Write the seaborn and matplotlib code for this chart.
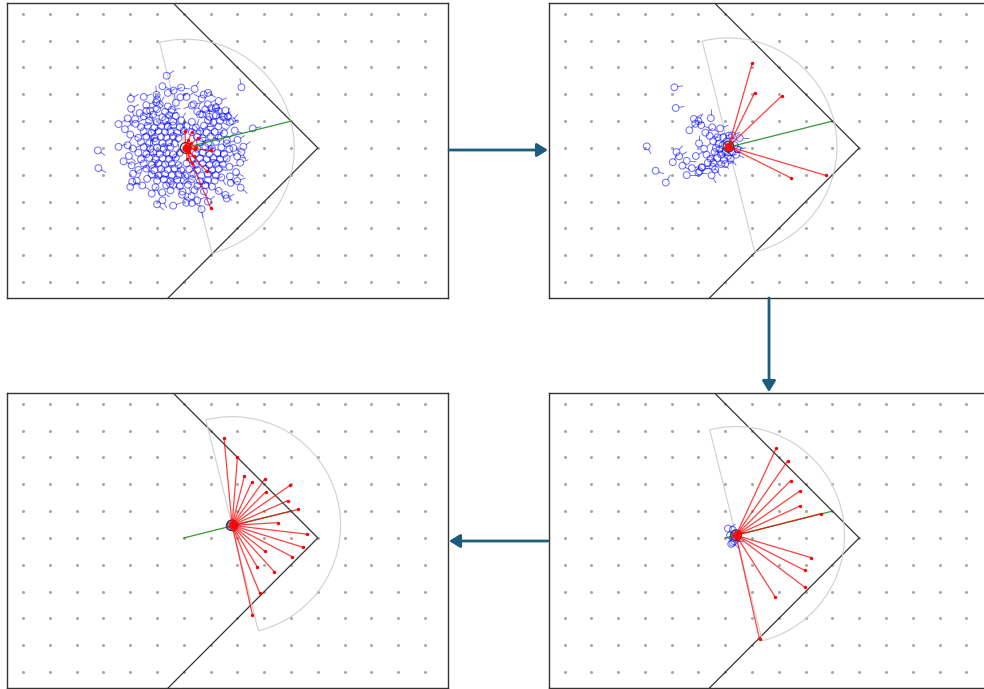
import numpy as np
import matplotlib
matplotlib.use("Agg")
import matplotlib.pyplot as plt
from matplotlib.patches import Wedge, Circle, FancyArrowPatch
from matplotlib.collections import LineCollection
import seaborn as sns

# ---- scene (grid units) ----
grid_x = list(range(0, 16))
grid_y = list(range(0, 11))
wall_vertex = (11.0, 5.0)
wall_top = (5.6, 10.4)
wall_bottom = (5.4, -0.6)
truth_ray = [(6.0, 5.0), (10.0, 6.0)]
fov_radius = 4.05
fov_heading = 14.0

# estimated robot pose per panel
centers = [(6.07, 5.0), (6.12, 5.05), (7.8, 5.47), (6.4, 5.1)]

# red rays: end points per panel
rays1_x = [6.04, 6.29, 6.54, 7.01, 6.36, 6.85, 7.0, 6.25, 6.4, 6.2, 6.15, 6.3, 6.45, 6.12]
rays1_y = [5.62, 5.6, 5.37, 4.91, 4.69, 4.13, 2.76, 5.2, 4.95, 4.85, 5.3, 4.45, 5.05, 4.6]
rays2_x = [7.01, 7.10, 8.11, 9.75, 8.46]
rays2_y = [8.17, 7.06, 6.94, 3.98, 3.88]
rays3_x = [7.50, 8.00, 8.26, 8.54, 9.03, 9.07, 9.98, 9.88, 10.27, 9.50, 10.60, 10.46, 10.04, 9.03, 8.74, 9.38, 8.83, 8.56]
rays3_y = [8.72, 8.01, 7.31, 7.09, 7.21, 6.73, 6.97, 6.39, 6.06, 5.57, 5.14, 4.65, 4.30, 4.50, 3.92, 3.74, 2.95, 2.14]
rays4_x = [7.90, 8.33, 8.45, 8.79, 8.79, 9.59, 9.19, 8.97, 8.96, 7.87, 7.28]
rays4_y = [8.35, 7.87, 7.14, 6.75, 6.19, 5.91, 4.27, 3.79, 3.17, 2.79, 1.23]

# particles (x, y, heading in degrees)
p1_x = [5.36, 8.15, 5.62, 5.87, 4.98, 4.02, 4.03, 4.18, 3.56, 4.74, 4.97, 2.79, 3.56, 2.81, 8.57,
        8.22, 7.99, 6.74, 6.67, 6.36, 6.68, 7.02, 7.19, 7.45, 7.64, 7.29, 7.72, 4.10, 4.07, 4.24,
        4.63, 4.94, 5.19, 5.34, 5.93, 6.08, 6.66, 6.29, 7.55, 7.60, 7.72, 7.99, 8.12,
        4.2, 4.0, 3.9, 3.95, 4.05, 4.45, 4.8, 5.2, 5.6, 6.3, 6.9, 7.3, 7.75, 7.95,
        8.1, 8.15, 8.0, 7.9, 7.8, 7.55, 7.3, 6.9, 6.4, 5.9, 5.4, 5.0, 4.6, 4.35,
        3.8, 3.75, 4.0, 5.0, 6.5, 7.4, 7.7, 7.85, 7.6, 5.2, 6.1, 4.5, 3.9,
        5.1, 5.4, 5.7, 6.3, 6.9, 7.2,
        4.6, 5.0, 5.3, 5.55, 6.5, 6.8, 7.3,
        4.5, 4.85, 5.2, 5.45, 5.7, 6.6, 6.95, 7.2, 7.5,
        4.7, 5.0, 5.3, 5.6, 5.9, 6.3, 6.9, 7.1, 7.35,
        4.4, 4.65, 4.9, 5.15, 5.4, 5.6, 5.85, 6.1, 6.45, 6.75, 7.0,
        4.5, 4.8, 5.05, 5.3, 5.5, 5.75, 6.0, 6.3, 6.6, 6.85, 7.15, 7.5,
        4.3, 4.6, 4.9, 5.15, 5.35, 5.6, 5.8, 6.5, 6.7, 7.0, 7.3,
        4.4, 4.7, 4.95, 5.2, 5.45, 5.65, 6.6, 6.9, 7.2, 7.6,
        4.1, 4.5, 4.75, 5.0, 5.25, 5.5, 6.5, 6.8, 7.05, 7.4, 7.7,
        4.3, 4.6, 4.85, 5.1, 5.35, 5.6, 5.85, 6.45, 6.7, 6.95, 7.25, 7.5,
        4.4, 4.7, 4.95, 5.2, 5.45, 5.7, 6.3, 6.6, 6.85, 7.1, 7.35, 7.6,
        4.5, 4.8, 5.05, 5.3, 5.55, 5.8, 6.1, 6.45, 6.7, 6.95, 7.2, 7.45,
        4.3, 4.6, 4.9, 5.15, 5.4, 5.65, 5.9, 6.2, 6.5, 6.8, 7.05, 7.3,
        4.8, 5.05, 5.3, 5.55, 5.8, 6.05, 6.35, 6.65, 6.9, 7.2,
        5.0, 5.25, 5.5, 5.75, 6.0, 6.3, 6.6, 6.9, 7.15,
        5.6, 5.85, 6.15, 6.5, 6.8, 7.05,
        5.5, 5.95, 6.4, 6.75]
p1_y = [7.69, 7.26, 7.14, 6.89, 6.98, 6.83, 6.46, 6.08, 5.89, 6.39, 6.70, 4.91, 5.04, 4.25, 5.73,
        5.05, 4.68, 6.99, 6.84, 6.63, 6.25, 6.48, 6.48, 6.17, 6.17, 5.80, 5.96, 4.04, 3.74, 3.78,
        3.85, 3.54, 3.34, 3.61, 3.26, 2.96, 2.72, 3.21, 3.25, 3.12, 3.94, 3.77, 3.52,
        5.9, 5.5, 5.1, 4.7, 4.35, 3.6, 3.3, 3.05, 2.85, 2.95, 3.0, 3.4, 3.7, 4.1,
        4.45, 4.85, 5.3, 5.65, 6.0, 6.4, 6.75, 7.05, 7.2, 7.25, 7.05, 6.8, 6.6, 6.3,
        5.7, 4.5, 3.55, 2.9, 3.05, 3.9, 4.3, 5.0, 5.3, 7.3, 6.9, 6.9, 6.1,
        6.62, 6.55, 6.68, 6.58, 6.63, 6.52,
        6.38, 6.45, 6.35, 6.42, 6.36, 6.44, 6.38,
        6.18, 6.24, 6.15, 6.22, 6.19, 6.25, 6.16, 6.21, 6.14,
        6.02, 5.96, 6.05, 5.98, 6.03, 5.97, 6.04, 5.95, 6.01,
        5.78, 5.83, 5.76, 5.82, 5.79, 5.84, 5.77, 5.81, 5.76, 5.83, 5.78,
        5.62, 5.57, 5.63, 5.58, 5.61, 5.56, 5.64, 5.59, 5.62, 5.57, 5.60, 5.55,
        5.38, 5.43, 5.36, 5.42, 5.39, 5.44, 5.37, 5.41, 5.36, 5.43, 5.38,
        5.22, 5.17, 5.23, 5.18, 5.21, 5.16, 5.22, 5.18, 5.23, 5.17,
        4.98, 5.03, 4.97, 5.02, 4.96, 5.04, 4.97, 5.03, 4.98, 5.02, 4.96,
        4.82, 4.77, 4.83, 4.78, 4.81, 4.76, 4.82, 4.79, 4.83, 4.77, 4.81, 4.78,
        4.58, 4.63, 4.57, 4.62, 4.59, 4.64, 4.57, 4.62, 4.58, 4.63, 4.57, 4.61,
        4.42, 4.37, 4.43, 4.38, 4.41, 4.36, 4.42, 4.38, 4.43, 4.37, 4.41, 4.38,
        4.18, 4.23, 4.17, 4.22, 4.19, 4.24, 4.17, 4.21, 4.18, 4.23, 4.17, 4.22,
        4.02, 3.97, 4.03, 3.98, 4.01, 3.96, 4.03, 3.97, 4.02, 3.98,
        3.78, 3.83, 3.77, 3.82, 3.79, 3.84, 3.77, 3.81, 3.78,
        3.62, 3.57, 3.63, 3.58, 3.61, 3.56,
        3.42, 3.37, 3.43, 3.38]
p1_h = [35, 100, 20, 30, 95, 30, 30, 110, 30, -70, 95, -35, 20, -30, 10,
        35, -10, 20, 150, 10, -40, 0, 200, -30, 80, -20, 15, 30, -20, 60,
        10, -60, -30, 40, -50, 20, -80, 200, -40, 30, -60, 20, -40,
        30, -20, 60, -40, 20, -30, 50, -60, 20, -20, 40, -50, 10, -30,
        20, -60, 30, -20, 50, -40, 20, -30, 60, -10, 30, -50, 20, -30,
        40, -20, 30, -40, 20, -60, 10, -30, 40, -20, 30, 20, -60,
        60, -30, 100, 200, 30, -60,
        30, 120, -40, 10, 70, -20, 250,
        -30, 45, 160, 20, -80, 30, 90, -10, 40,
        80, -20, 30, 200, 60, -50, 10, 120, -30,
        20, -60, 100, 30, -10, 150, 45, -30, 70, 0, -80,
        -40, 30, 210, 60, -20, 10, 90, -70, 35, 160, -10, 50,
        30, -30, 80, 190, 20, -50, 40, 0, 110, -20, 60,
        -20, 50, 140, -60, 30, 200, 10, -40, 70, 20,
        20, -40, 90, 30, -70, 160, 40, -10, 220, 30, -50,
        -30, 60, 10, 180, -50, 30, 100, -20, 45, -80, 15, 200,
        40, -20, 110, -60, 20, 70, -40, 160, 0, -30, 90, 30,
        -50, 30, 200, -10, 60, -70, 20, 100, -40, 30, -20, 50,
        20, -40, 70, 150, -20, 40, -60, 10, 120, -30, 60, -10,
        -20, 60, -50, 190, 30, -30, 80, -70, 20, 40,
        40, -60, 20, 100, -30, 60, -10, -80, 30,
        -30, 50, -70, 20, 160, -40,
        60, -20, 30, -60]

p2_x = [4.10, 4.15, 3.07, 3.40, 3.78, 4.04, 4.18, 4.28, 4.40, 4.56, 4.56, 4.66, 4.83, 4.88, 5.00,
        5.10, 5.26, 5.02, 5.21, 5.46, 5.51, 5.81, 5.42, 5.71, 5.00, 5.12, 5.49, 5.13, 5.04, 5.30,
        5.45, 5.55, 5.60, 5.70, 5.78, 5.85, 5.90, 5.95, 6.00, 6.05, 6.10, 6.15, 6.20, 6.25, 6.14,
        6.25, 6.54, 6.35, 5.75, 5.65, 5.52, 5.35, 5.85, 6.00, 5.62, 5.92, 5.55, 4.90, 4.75, 6.40,
        6.45]
p2_y = [7.26, 6.49, 5.06, 4.15, 3.71, 4.47, 4.85, 4.69, 4.34, 4.52, 3.99, 5.66, 6.08, 5.90, 6.00,
        5.85, 5.57, 5.17, 4.97, 6.11, 5.77, 5.73, 5.45, 5.40, 4.08, 4.27, 3.98, 4.28, 4.13, 4.75,
        4.60, 4.45, 4.85, 4.62, 4.95, 4.75, 5.10, 4.55, 4.85, 5.25, 4.70, 5.00, 4.60, 4.85, 5.46,
        5.47, 5.37, 5.10, 5.15, 5.00, 4.30, 4.45, 4.40, 4.40, 4.20, 5.40, 5.25, 4.70, 4.25, 4.75,
        4.95]
p2_h = [10, 10, -60, -20, 60, 60, 45, 30, -30, 0, 0, 45, 30, 10, 60,
        -20, 30, 90, 40, 90, -40, 20, -10, 30, 0, 0, -60, 10, 20, -30,
        50, -20, 10, 30, -40, 0, 20, -10, 40, -30, 10, 60, -50, 0, -30,
        20, 0, -20, 30, -60, -40, 20, -30, 10, -50, 20, 50, 30, 10, -20,
        10]

p3_x = [7.70, 7.76]
p3_y = [5.43, 5.50]
p3_h = [5, 0]

p4_x = [6.10, 6.28, 6.18, 6.28, 6.27, 6.33, 6.38, 6.22]
p4_y = [5.35, 5.30, 5.10, 5.00, 4.82, 4.88, 5.15, 4.78]
p4_h = [30, -30, 0, -20, -40, 0, 10, 20]

panels = [
    dict(rays=(rays1_x, rays1_y), parts=(p1_x, p1_y, p1_h)),
    dict(rays=(rays2_x, rays2_y), parts=(p2_x, p2_y, p2_h)),
    dict(rays=(rays3_x, rays3_y), parts=(p3_x, p3_y, p3_h)),
    dict(rays=(rays4_x, rays4_y), parts=(p4_x, p4_y, p4_h)),
]

# pixel placement of the four frames (left, top)
W, H = 984, 689
frame_w, frame_h = 441, 295
frames = [(7.3, 3), (548.7, 3), (7.3, 393), (548.7, 393)]
arrow_color = "#1c5d7e"

sns.set_theme(style="white")
fig = plt.figure(figsize=(W / 100, H / 100), dpi=100)
fig.patch.set_facecolor("white")

gx, gy = np.meshgrid(grid_x, grid_y)

for (left, top), cfg, c in zip(frames, panels, centers):
    ax = fig.add_axes([left / W, 1 - (top + frame_h) / H, frame_w / W, frame_h / H])
    ax.set_xlim(-0.59, 15.87)
    ax.set_ylim(-0.59, 10.4)
    ax.set_xticks([])
    ax.set_yticks([])
    for s in ax.spines.values():
        s.set_color("#333333")
        s.set_linewidth(1.0)

    sns.scatterplot(x=gx.ravel(), y=gy.ravel(), s=5, color="#aaaaaa", linewidth=0, ax=ax, zorder=1)

    # walls
    ax.plot([wall_top[0], wall_vertex[0], wall_bottom[0]],
            [wall_top[1], wall_vertex[1], wall_bottom[1]], color="#333333", lw=0.9, zorder=2)

    # field of view
    ax.add_patch(Wedge(c, fov_radius, fov_heading - 90, fov_heading + 90,
                       fill=False, edgecolor="#d0d0d0", lw=0.8, zorder=2))

    # particles
    px, py, ph = (np.array(a, dtype=float) for a in cfg["parts"])
    t = np.deg2rad(ph)
    segs = np.stack([np.c_[px + 0.11 * np.cos(t), py + 0.11 * np.sin(t)],
                     np.c_[px + 0.33 * np.cos(t), py + 0.33 * np.sin(t)]], axis=1)
    ax.add_collection(LineCollection(segs, colors="blue", lw=0.7, alpha=0.55, zorder=3))
    sns.scatterplot(x=px, y=py, s=24, facecolors="none", edgecolors="blue",
                    linewidth=0.75, alpha=0.55, ax=ax, zorder=3)

    # ground-truth ray
    ax.plot(*zip(*truth_ray), color="green", lw=0.9, alpha=0.8, zorder=4)

    # measurement rays
    rx, ry = (np.array(a) for a in cfg["rays"])
    rsegs = [[c, (x, y)] for x, y in zip(rx, ry)]
    ax.add_collection(LineCollection(rsegs, colors="red", lw=0.9, alpha=0.75, zorder=5))
    sns.scatterplot(x=rx, y=ry, s=6, color="red", linewidth=0, ax=ax, zorder=6)

    # robot
    ax.add_patch(Circle(c, 0.2, fill=False, edgecolor="#333333", lw=0.9, zorder=4))
    ax.plot([c[0]], [c[1]], "o", color="red", ms=5, alpha=0.85, zorder=6)

# arrows between the frames (pixel coordinates)
arrows = [((449, 150), (548, 150)), ((769, 298), (769, 392)), ((548, 541), (449, 541))]
for (x0, y0), (x1, y1) in arrows:
    fig.add_artist(FancyArrowPatch((x0 / W, 1 - y0 / H), (x1 / W, 1 - y1 / H),
                                   transform=fig.transFigure, arrowstyle="-|>,head_length=0.65,head_width=0.4",
                                   mutation_scale=10, lw=2.0, color=arrow_color,
                                   shrinkA=0, shrinkB=0, zorder=10))

fig.savefig("out.png", dpi=100, facecolor="white")
